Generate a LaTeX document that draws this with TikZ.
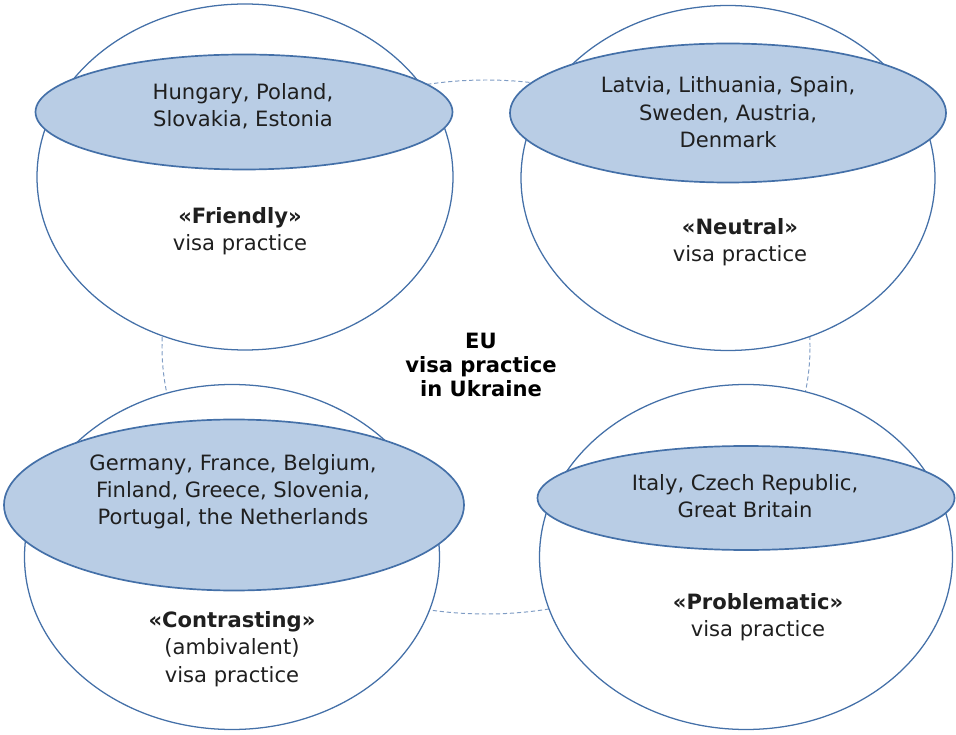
\documentclass[tikz,border=0pt]{standalone}
\usepackage{fontspec}
\setsansfont{DejaVu Sans}
\usetikzlibrary{shapes.geometric, positioning}
\definecolor{clrring}{HTML}{4470A8}
\definecolor{clrgroup}{HTML}{B9CDE5}
\definecolor{clrhub}{HTML}{7F9CC4}
\definecolor{clrtext}{HTML}{1F1F1F}

\begin{document}
\begin{tikzpicture}[
    every node/.style={font=\sffamily},
    ring/.style={ellipse, draw=clrring, fill=white, line width=0.9pt, inner sep=0},
    group/.style={ellipse, draw=clrring, fill=clrgroup, line width=1.2pt, inner sep=0},
    hub/.style={ellipse, draw=clrhub, dash pattern=on 3pt off 2pt, line width=0.7pt, inner sep=0},
    members/.style={align=center, text=clrtext, font=\sffamily\fontsize{15}{19.5}\selectfont},
    practice/.style={align=center, text=clrtext, font=\sffamily\fontsize{15}{19.5}\selectfont},
    title/.style={align=center, text=black, font=\sffamily\bfseries\fontsize{15}{17}\selectfont},
]
\useasboundingbox (0,0) rectangle (23.9,18.35);
% dashed ring behind the four groups
\node[hub, minimum width=16.2cm, minimum height=13.35cm] (hub) at (12.15,9.675) {};
\node[title] (hub_txt) at (12.025,9.225) {EU\\visa practice\\in Ukraine};
% friendly
\node[ring, minimum width=10.4cm, minimum height=8.65cm] (friendly) at (6.125,13.925) {};
\node[group, minimum width=10.425cm, minimum height=2.875cm] (friendly_grp) at (6.1,15.55) {};
\node[members] (friendly_txt) at (6.075,15.7) {Hungary, Poland,\\Slovakia, Estonia};
\node[practice] (friendly_lbl) at (6.0,12.575) {\textbf{«Friendly»}\\visa practice};
% neutral
\node[ring, minimum width=10.35cm, minimum height=8.625cm] (neutral) at (18.2,13.9) {};
\node[group, minimum width=10.9cm, minimum height=3.475cm] (neutral_grp) at (18.2,15.525) {};
\node[members] (neutral_txt) at (18.2,15.54) {Latvia, Lithuania, Spain,\\Sweden, Austria,\\Denmark};
\node[practice] (neutral_lbl) at (18.5,12.29) {\textbf{«Neutral»}\\visa practice};
% contrasting
\node[ring, minimum width=10.375cm, minimum height=8.625cm] (contrast) at (5.8,4.425) {};
\node[group, minimum width=11.5cm, minimum height=4.275cm] (contrast_grp) at (5.85,5.725) {};
\node[members] (contrast_txt) at (5.825,6.06) {Germany, France, Belgium,\\Finland, Greece, Slovenia,\\Portugal, the Netherlands};
\node[practice] (contrast_lbl) at (5.8,2.125) {\textbf{«Contrasting»}\\(ambivalent)\\visa practice};
% problematic
\node[ring, minimum width=10.325cm, minimum height=8.625cm] (problem) at (18.65,4.425) {};
\node[group, minimum width=10.425cm, minimum height=2.6cm] (problem_grp) at (18.65,5.9) {};
\node[members] (problem_txt) at (18.625,5.95) {Italy, Czech Republic,\\Great Britain};
\node[practice] (problem_lbl) at (18.95,2.925) {\textbf{«Problematic»}\\visa practice};
\end{tikzpicture}
\end{document}
